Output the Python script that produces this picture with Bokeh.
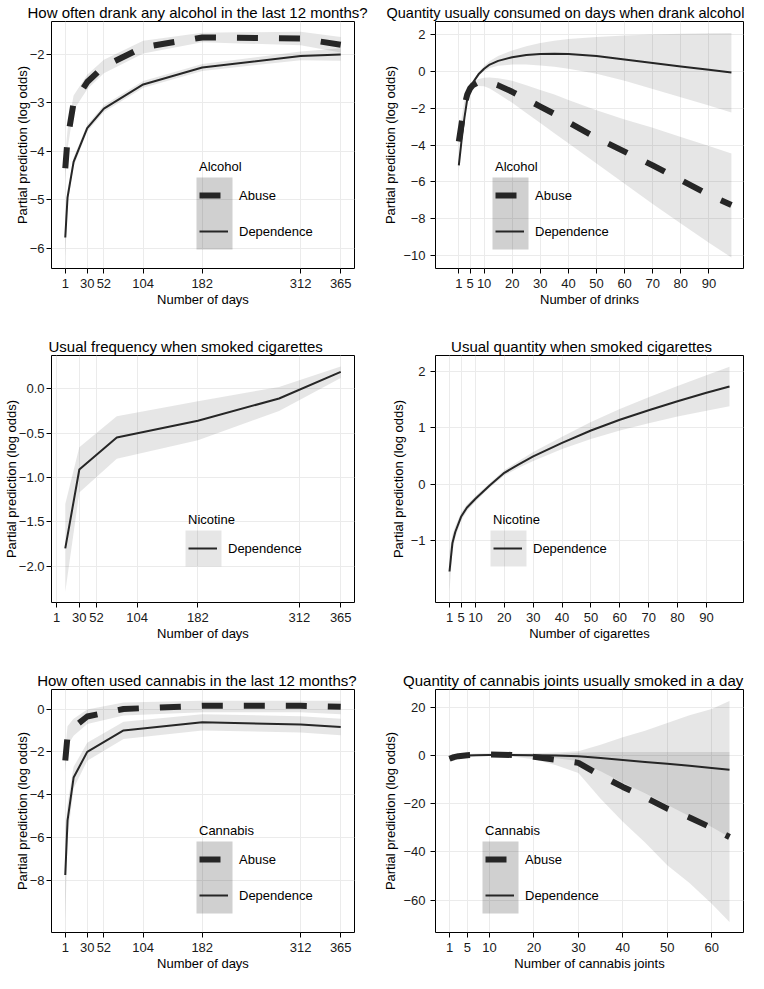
from bokeh.plotting import figure
from bokeh.layouts import gridplot
from bokeh.models import FixedTicker, Legend, LegendItem, BoxAnnotation, Range1d
from bokeh.embed import file_html
from bokeh.resources import INLINE

FONT = "Liberation Sans"
INK = "#262626"
BAND = "#333333"
BAND_ALPHA = 0.12
GRID = "#ebebeb"

# ---------------- data ----------------
# Panel 1: alcohol frequency
alc_freq_days = [1, 4, 12, 30, 52, 104, 182, 312, 365]
alc_freq_abuse = [-4.35, -3.75, -3.0, -2.57, -2.25, -1.85, -1.65, -1.67, -1.8]
alc_freq_abuse_lo = [-4.6, -3.95, -3.15, -2.72, -2.39, -1.98, -1.75, -1.81, -1.96]
alc_freq_abuse_hi = [-4.1, -3.55, -2.85, -2.42, -2.11, -1.72, -1.55, -1.53, -1.64]
alc_freq_dep = [-5.78, -4.95, -4.22, -3.52, -3.12, -2.62, -2.27, -2.03, -2.0]
alc_freq_dep_lo = [-6.18, -5.1, -4.31, -3.59, -3.19, -2.69, -2.34, -2.12, -2.13]
alc_freq_dep_hi = [-5.38, -4.8, -4.13, -3.45, -3.05, -2.55, -2.2, -1.94, -1.87]

# Panel 2: alcohol quantity
alc_qty_drinks = [1, 2, 3, 4, 5, 6, 8, 10, 12, 15, 20, 25, 30, 35, 40, 50, 60, 70, 80, 90, 98]
alc_qty_abuse = [-3.8, -2.8, -1.85, -1.25, -0.92, -0.74, -0.58, -0.55, -0.6, -0.75, -1.1, -1.5,
                 -1.9, -2.3, -2.75, -3.6, -4.35, -5.1, -5.9, -6.7, -7.25]
alc_qty_abuse_lo = [-4.2, -3.1, -2.1, -1.45, -1.1, -0.92, -0.78, -0.8, -0.92, -1.2, -1.7, -2.25,
                    -2.8, -3.35, -3.9, -5.0, -6.1, -7.2, -8.25, -9.3, -10.1]
alc_qty_abuse_hi = [-3.4, -2.5, -1.6, -1.05, -0.74, -0.56, -0.4, -0.33, -0.32, -0.36, -0.5, -0.75,
                    -1.0, -1.25, -1.55, -2.1, -2.6, -3.05, -3.55, -4.05, -4.45]
alc_qty_dep = [-5.1, -3.7, -2.5, -1.5, -0.95, -0.6, -0.15, 0.15, 0.38, 0.58, 0.78, 0.9,
               0.95, 0.97, 0.95, 0.85, 0.65, 0.47, 0.28, 0.1, -0.05]
alc_qty_dep_lo = [-5.4, -3.9, -2.65, -1.62, -1.05, -0.7, -0.25, 0.02, 0.2, 0.32, 0.38, 0.38,
                  0.33, 0.26, 0.15, -0.12, -0.5, -0.95, -1.4, -1.85, -2.22]
alc_qty_dep_hi = [-4.8, -3.5, -2.35, -1.38, -0.85, -0.5, -0.05, 0.3, 0.58, 0.85, 1.15, 1.38,
                  1.55, 1.68, 1.77, 1.88, 1.96, 2.02, 2.06, 2.08, 2.1]

# Panel 3: nicotine frequency
nic_freq_days = [12, 30, 78, 182, 286, 365]
nic_freq_dep = [-1.8, -0.91, -0.55, -0.36, -0.11, 0.19]
nic_freq_dep_lo = [-2.29, -1.17, -0.79, -0.58, -0.25, 0.12]
nic_freq_dep_hi = [-1.3, -0.66, -0.31, -0.14, 0.02, 0.25]

# Panel 4: nicotine quantity
nic_qty_cigs = [1, 2, 3, 5, 7, 10, 15, 20, 25, 30, 40, 50, 60, 70, 80, 90, 98]
nic_qty_dep = [-1.55, -1.05, -0.85, -0.58, -0.42, -0.26, -0.02, 0.2, 0.35, 0.49, 0.73, 0.95,
               1.14, 1.31, 1.47, 1.62, 1.73]
nic_qty_dep_lo = [-1.9, -1.2, -0.95, -0.65, -0.48, -0.31, -0.06, 0.15, 0.29, 0.41, 0.62, 0.8,
                  0.95, 1.08, 1.2, 1.3, 1.38]
nic_qty_dep_hi = [-1.2, -0.9, -0.75, -0.51, -0.36, -0.21, 0.02, 0.25, 0.41, 0.57, 0.84, 1.1,
                  1.33, 1.54, 1.74, 1.93, 2.08]

# Panel 5: cannabis frequency
can_freq_days = [1, 4, 12, 30, 78, 182, 312, 365]
can_freq_abuse = [-2.4, -1.25, -0.85, -0.35, 0.0, 0.15, 0.15, 0.1]
can_freq_abuse_lo = [-2.95, -1.7, -1.25, -0.7, -0.3, -0.15, -0.15, -0.25]
can_freq_abuse_hi = [-1.85, -0.8, -0.45, -0.02, 0.3, 0.39, 0.39, 0.39]
can_freq_dep = [-7.75, -5.2, -3.2, -2.0, -1.0, -0.62, -0.72, -0.84]
can_freq_dep_lo = [-9.9, -6.0, -3.7, -2.42, -1.4, -1.0, -1.1, -1.22]
can_freq_dep_hi = [-5.6, -4.4, -2.7, -1.58, -0.6, -0.24, -0.34, -0.46]

# Panel 6: cannabis joints
can_qty_joints = [1, 2, 3, 5, 7, 10, 15, 20, 25, 30, 35, 40, 45, 50, 55, 60, 64]
can_qty_abuse = [-1.3, -0.6, -0.2, 0.2, 0.4, 0.5, 0.3, -0.5, -1.7, -3.0, -8.2, -13.0, -17.3,
                 -22.0, -25.7, -30.0, -33.8]
can_qty_abuse_lo = [-2.3, -1.2, -0.7, -0.3, -0.1, 0.0, -0.3, -1.5, -4.0, -7.2, -17.9, -27.5,
                    -36.1, -45.5, -52.9, -61.5, -69.1]
can_qty_abuse_hi = [-0.3, 0.0, 0.3, 0.7, 0.9, 1.0, 0.9, 0.5, 0.6, 1.2, 1.5, 1.5, 1.5, 1.5,
                    1.5, 1.5, 1.5]
can_qty_dep = [-1.0, -0.5, -0.2, 0.1, 0.2, 0.3, 0.3, 0.2, 0.1, -0.2, -1.0, -1.8, -2.6, -3.4,
               -4.2, -5.1, -5.9]
can_qty_dep_lo = [-1.8, -1.1, -0.7, -0.3, -0.2, -0.1, -0.2, -0.6, -1.1, -2.2, -6.5, -11.3,
                  -15.6, -20.4, -25.2, -29.6, -33.9]
can_qty_dep_hi = [-0.2, 0.1, 0.3, 0.5, 0.6, 0.7, 0.8, 1.0, 1.3, 1.8, 4.5, 7.7, 10.4, 13.6,
                  16.8, 19.4, 22.7]

# ticks
day_ticks = [1, 30, 52, 104, 182, 312, 365]
count_ticks_100 = [1, 5, 10, 20, 30, 40, 50, 60, 70, 80, 90]
count_ticks_60 = [1, 5, 10, 20, 30, 40, 50, 60]
alc_freq_yticks = [-2, -3, -4, -5, -6]
alc_freq_ylabels = ["\u22122", "\u22123", "\u22124", "\u22125", "\u22126"]
alc_qty_yticks = [2, 0, -2, -4, -6, -8, -10]
alc_qty_ylabels = ["2", "0", "\u22122", "\u22124", "\u22126", "\u22128", "\u221210"]
nic_freq_yticks = [0.0, -0.5, -1.0, -1.5, -2.0]
nic_freq_ylabels = ["0.0", "\u22120.5", "\u22121.0", "\u22121.5", "\u22122.0"]
nic_qty_yticks = [2, 1, 0, -1]
nic_qty_ylabels = ["2", "1", "0", "\u22121"]
can_freq_yticks = [0, -2, -4, -6, -8]
can_freq_ylabels = ["0", "\u22122", "\u22124", "\u22126", "\u22128"]
can_qty_yticks = [20, 0, -20, -40, -60]
can_qty_ylabels = ["20", "0", "\u221220", "\u221240", "\u221260"]

W = 374


def make_panel(title, xlabel, xr, yr, xticks, yticks, ylabels, height, mb, title_offset,
               ystand, title_size="15px"):
    left, right, top, bottom = mb
    p = figure(width=W, height=height, x_range=Range1d(*xr), y_range=Range1d(*yr),
               output_backend="svg", toolbar_location=None,
               min_border_left=left, min_border_right=right,
               min_border_top=top, min_border_bottom=bottom)
    p.title.text = title
    p.title.text_font = FONT
    p.title.text_font_size = title_size
    p.title.text_font_style = "normal"
    p.title.text_color = "black"
    p.title.align = "left"
    p.title.offset = title_offset
    p.title.standoff = 2
    p.outline_line_color = "black"
    p.outline_line_width = 1
    p.outline_line_alpha = 1
    p.background_fill_color = "white"
    p.border_fill_color = "white"
    p.xaxis.ticker = FixedTicker(ticks=xticks)
    p.yaxis.ticker = FixedTicker(ticks=yticks)
    p.yaxis.major_label_overrides = {t: l for t, l in zip(yticks, ylabels)}
    p.xaxis.axis_label = xlabel
    p.yaxis.axis_label = "Partial prediction (log odds)"
    for ax in (p.xaxis, p.yaxis):
        ax.axis_line_color = None
        ax.major_tick_line_color = "black"
        ax.major_tick_out = 5
        ax.major_tick_in = 0
        ax.minor_tick_line_color = None
        ax.major_label_text_font = FONT
        ax.major_label_text_font_size = "13px"
        ax.major_label_text_color = "#1a1a1a"
        ax.axis_label_text_font = FONT
        ax.axis_label_text_font_size = "13px"
        ax.axis_label_text_font_style = "normal"
        ax.axis_label_text_color = "black"
    p.xaxis.major_label_standoff = 5
    p.xaxis.axis_label_standoff = 1
    p.yaxis.major_label_standoff = ystand[0]
    p.yaxis.axis_label_standoff = ystand[1]
    p.xgrid.grid_line_color = GRID
    p.ygrid.grid_line_color = GRID
    p.xgrid.ticker = FixedTicker(ticks=xticks)
    p.ygrid.ticker = FixedTicker(ticks=yticks)
    return p


def add_band(p, x, lo, hi):
    p.varea(x=x, y1=lo, y2=hi, fill_color=BAND, fill_alpha=BAND_ALPHA)


def add_abuse(p, x, y):
    return p.line(x, y, line_color=INK, line_width=6, line_dash="21 21", line_join="round")


def add_dep(p, x, y):
    return p.line(x, y, line_color=INK, line_width=2, line_join="round")


def add_legend(p, title, items, box, nboxes):
    # box: (left, right, bottom, top) in screen px from frame bottom-left
    bl, br, bb, bt = box
    for _ in range(nboxes):
        p.add_layout(BoxAnnotation(left=bl, right=br, bottom=bb, top=bt,
                                   left_units="screen", right_units="screen",
                                   top_units="screen", bottom_units="screen",
                                   fill_color=BAND, fill_alpha=BAND_ALPHA,
                                   line_color=None))
    lg = Legend(items=[LegendItem(label=l, renderers=[r]) for l, r in items],
                title=title, location=(bl + 3, bb), padding=0, margin=0, spacing=0,
                glyph_width=29, glyph_height=36, label_standoff=11, title_standoff=3,
                background_fill_alpha=0, border_line_alpha=0,
                label_text_font=FONT, label_text_font_size="13px",
                label_text_color="black",
                title_text_font=FONT, title_text_font_size="13px",
                title_text_font_style="normal", title_text_color="black")
    p.add_layout(lg)


ROW_H = 334
LAST_H = 305
LEFT_YS = (2, -3)
RIGHT_YS = (5, 2)

# Panel 1
p1 = make_panel("How often drank any alcohol in the last 12 months?", "Number of days",
                (-17.2, 383.2), (-6.42, -1.32), day_ticks, alc_freq_yticks, alc_freq_ylabels,
                ROW_H, (37, 20, 16, 66), -24, LEFT_YS)
add_band(p1, alc_freq_days, alc_freq_abuse_lo, alc_freq_abuse_hi)
add_band(p1, alc_freq_days, alc_freq_dep_lo, alc_freq_dep_hi)
a1 = add_abuse(p1, alc_freq_days, alc_freq_abuse)
d1 = add_dep(p1, alc_freq_days, alc_freq_dep)
add_legend(p1, "Alcohol", [("Abuse", a1), ("Dependence", d1)], (145, 181, 19, 91), 2)

# Panel 2
p2 = make_panel("Quantity usually consumed on days when drank alcohol", "Number of drinks",
                (-7.3, 102.3), (-10.7, 2.72), count_ticks_100, alc_qty_yticks, alc_qty_ylabels,
                ROW_H, (51, 5, 16, 66), -49, RIGHT_YS, title_size="14.5px")
add_band(p2, alc_qty_drinks, alc_qty_abuse_lo, alc_qty_abuse_hi)
add_band(p2, alc_qty_drinks, alc_qty_dep_lo, alc_qty_dep_hi)
a2 = add_abuse(p2, alc_qty_drinks, alc_qty_abuse)
d2 = add_dep(p2, alc_qty_drinks, alc_qty_dep)
add_legend(p2, "Alcohol", [("Abuse", a2), ("Dependence", d2)], (57, 93, 19, 91), 2)

# Panel 3
p3 = make_panel("Usual frequency when smoked cigarettes", "Number of days",
                (-5.65, 382.65), (-2.41, 0.375), day_ticks, nic_freq_yticks, nic_freq_ylabels,
                ROW_H, (48, 20, 16, 66), -3, LEFT_YS)
add_band(p3, nic_freq_days, nic_freq_dep_lo, nic_freq_dep_hi)
d3 = add_dep(p3, nic_freq_days, nic_freq_dep)
add_legend(p3, "Nicotine", [("Dependence", d3)], (134, 170, 36, 72), 1)

# Panel 4
p4 = make_panel("Usual quantity when smoked cigarettes", "Number of cigarettes",
                (-3.85, 102.85), (-2.1, 2.28), count_ticks_100, nic_qty_yticks, nic_qty_ylabels,
                ROW_H, (53, 5, 16, 66), 15.6, RIGHT_YS)
add_band(p4, nic_qty_cigs, nic_qty_dep_lo, nic_qty_dep_hi)
d4 = add_dep(p4, nic_qty_cigs, nic_qty_dep)
add_legend(p4, "Nicotine", [("Dependence", d4)], (55, 91, 36, 72), 1)

# Panel 5
p5 = make_panel("How often used cannabis in the last 12 months?", "Number of days",
                (-17.2, 383.2), (-10.43, 0.91), day_ticks, can_freq_yticks, can_freq_ylabels,
                LAST_H, (37, 20, 16, 40), -14.3, LEFT_YS)
add_band(p5, can_freq_days, can_freq_abuse_lo, can_freq_abuse_hi)
add_band(p5, can_freq_days, can_freq_dep_lo, can_freq_dep_hi)
a5 = add_abuse(p5, can_freq_days, can_freq_abuse)
d5 = add_dep(p5, can_freq_days, can_freq_dep)
add_legend(p5, "Cannabis", [("Abuse", a5), ("Dependence", d5)], (145, 181, 19, 91), 2)

# Panel 6
p6 = make_panel("Quantity of cannabis joints usually smoked in a day", "Number of cannabis joints",
                (-2.15, 67.15), (-73.5, 27.5), count_ticks_60, can_qty_yticks, can_qty_ylabels,
                LAST_H, (61, 5, 16, 40), -32.4, RIGHT_YS)
add_band(p6, can_qty_joints, can_qty_abuse_lo, can_qty_abuse_hi)
add_band(p6, can_qty_joints, can_qty_dep_lo, can_qty_dep_hi)
a6 = add_abuse(p6, can_qty_joints, can_qty_abuse)
d6 = add_dep(p6, can_qty_joints, can_qty_dep)
add_legend(p6, "Cannabis", [("Abuse", a6), ("Dependence", d6)], (47, 83, 19, 91), 2)

grid = gridplot([[p1, p2], [p3, p4], [p5, p6]], toolbar_location=None)

open("out.html", "w").write(file_html(grid, INLINE))
